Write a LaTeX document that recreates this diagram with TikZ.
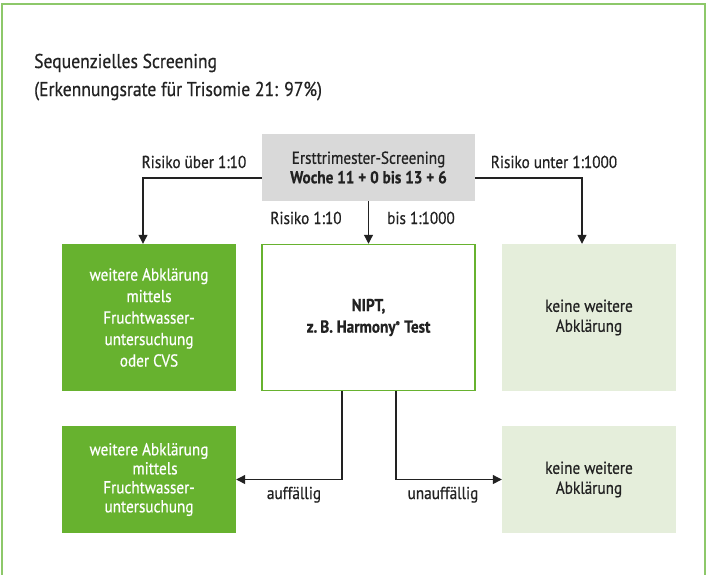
\documentclass[tikz,border=0pt]{standalone}
\usepackage{fontspec}
\setmainfont{PT Sans}[FakeStretch=0.88, FakeBold=0.6]
\usetikzlibrary{arrows.meta}
\definecolor{dgreen}{HTML}{67B22F}
\definecolor{lgreen}{HTML}{E5EEDB}
\definecolor{boxgray}{HTML}{D9D9D9}
\definecolor{framegreen}{HTML}{8DC86A}
\definecolor{txt}{HTML}{222222}
\tikzset{
  box/.style={rectangle, inner sep=0pt, align=center, text=txt,
    font=\fontsize{17.3}{21.5}\selectfont},
  tightbox/.style={font=\fontsize{17.3}{19}\selectfont},
  darkbox/.style={box, fill=dgreen, text=white},
  lightbox/.style={box, fill=lgreen},
  graybox/.style={box, fill=boxgray, font=\fontsize{17.3}{19.5}\selectfont},
  midbox/.style={box, fill=white, draw=dgreen, line width=1.5pt},
  lbl/.style={anchor=base, inner sep=0pt, text=txt, font=\fontsize{17.3}{20}\selectfont},
  ttl/.style={anchor=base west, inner sep=0pt, text=txt, font=\fontsize{20}{24}\selectfont},
  arr/.style={draw=txt, line width=1.2pt, -{Triangle[length=9pt,width=9pt]}}
}
\begin{document}
\begin{tikzpicture}[x=1pt,y=-1pt]
\useasboundingbox (0,0) rectangle (708,574);
\fill[white] (0,0) rectangle (708,574);
\draw[framegreen, line width=2pt] (2,576) -- (2,4) -- (705,4) -- (705,576);

\node[ttl] (t1) at (34,68) {Sequenzielles Screening};
\node[ttl] (t2) at (34,96) {(Erkennungsrate für Trisomie 21: 97\%)};

\node[graybox, minimum width=213pt, minimum height=67pt] (gray) at (368.5,167.5)
  {Ersttrimester-Screening\\\bfseries Woche 11 + 0 bis 13 + 6};

\node[darkbox, minimum width=174pt, minimum height=147pt] (lt) at (149,317.5)
  {weitere Abklärung\\mittels\\Fruchtwasser-\\untersuchung\\oder CVS};
\node[midbox, minimum width=213pt, minimum height=146pt] (mid) at (368.5,317.5)
  {\bfseries NIPT,\\\bfseries z.\,B. Harmony\textsuperscript{\scriptsize\textregistered} Test};
\node[lightbox, minimum width=174pt, minimum height=147pt, font=\fontsize{17.3}{20}\selectfont] (rt) at (589,317.5)
  {keine weitere\\Abklärung};

\node[darkbox, tightbox, minimum width=174pt, minimum height=107pt] (bl) at (149,479.5)
  {weitere Abklärung\\\hspace*{12pt}mittels\\Fruchtwasser-\\untersuchung};
\node[lightbox, minimum width=174pt, minimum height=107pt, font=\fontsize{17.3}{20}\selectfont] (br) at (589,479.5)
  {keine weitere\\Abklärung};

\draw[arr] ([yshift=-10.5pt]gray.west) -| ([xshift=-6pt]lt.north);
\draw[arr] ([yshift=-10.5pt]gray.east) -| ([xshift=-7pt]rt.north);
\draw[arr] (gray.south) -- (mid.north);
\draw[arr] ([xshift=-26.5pt]mid.south) |- (bl.east);
\draw[arr] ([xshift=27.5pt]mid.south) |- (br.west);

\node[lbl] (l1) at (194,168) {Risiko über 1:10};
\node[lbl] (l2) at (554,168) {Risiko unter 1:1000};
\node[lbl] (l3) at (306,224) {Risiko 1:10};
\node[lbl] (l4) at (421,224) {bis 1:1000};
\node[lbl] (l5) at (294,499) {auffällig};
\node[lbl] (l6) at (443,499) {unauffällig};
\end{tikzpicture}
\end{document}
